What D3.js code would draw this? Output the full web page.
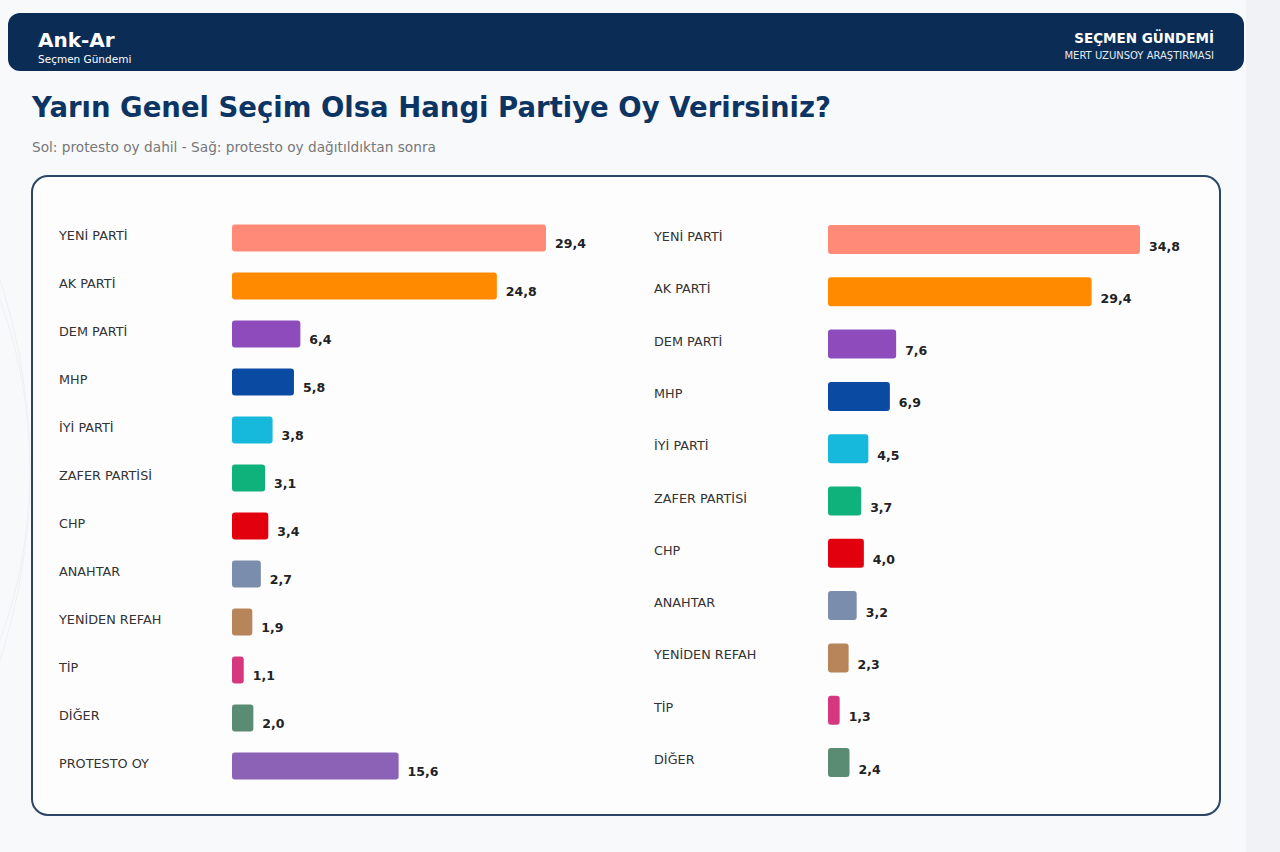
<!DOCTYPE html>
<html>
<head>
<meta charset="utf-8">
<script src="https://cdn.jsdelivr.net/npm/d3@7"></script>
<style>
  body { margin: 0; background: #f8f9fb; }
  svg { display: block; font-family: "DejaVu Sans", sans-serif; }
</style>
</head>
<body>
<div id="wrapper"></div>
<script>
// data
const partiesLeft = ["YENİ PARTİ", "AK PARTİ", "DEM PARTİ", "MHP", "İYİ PARTİ", "ZAFER PARTİSİ",
  "CHP", "ANAHTAR", "YENİDEN REFAH", "TİP", "DİĞER", "PROTESTO OY"]
const valuesLeft = [29.4, 24.8, 6.4, 5.8, 3.8, 3.1, 3.4, 2.7, 1.9, 1.1, 2.0, 15.6]

const partiesRight = ["YENİ PARTİ", "AK PARTİ", "DEM PARTİ", "MHP", "İYİ PARTİ", "ZAFER PARTİSİ",
  "CHP", "ANAHTAR", "YENİDEN REFAH", "TİP", "DİĞER"]
const valuesRight = [34.8, 29.4, 7.6, 6.9, 4.5, 3.7, 4.0, 3.2, 2.3, 1.3, 2.4]

const partyColors = ["#ff8a78", "#ff8a00", "#8e4bbb", "#0a4aa3", "#16b8dc", "#0fb27a",
  "#e2000f", "#7a8dad", "#b8845a", "#d5387f", "#5a8c73", "#8c62b6"]

const fmt = v => d3.format(".1f")(v).replace(".", ",")

// canvas
const width = 1280
const height = 852

const svg = d3.select("#wrapper")
  .append("svg")
  .attr("width", width)
  .attr("height", height)

svg.append("rect").attr("width", width).attr("height", height).attr("fill", "#f8f9fb")
svg.append("rect").attr("x", 1246).attr("width", 34).attr("height", height).attr("fill", "#f1f2f5")

// faint background arcs
const arcs = svg.append("g").attr("fill", "none").attr("stroke", "#eef0f4").attr("stroke-width", 1)
;[500, 620].forEach(r => {
  arcs.append("circle").attr("cx", -r + 30).attr("cy", 470).attr("r", r)
})

// header
svg.append("rect")
  .attr("x", 8).attr("y", 13)
  .attr("width", 1236).attr("height", 58)
  .attr("rx", 12)
  .attr("fill", "#0b2d55")

svg.append("text")
  .attr("x", 38).attr("y", 47)
  .attr("fill", "#fff").attr("font-size", 20).attr("font-weight", "bold")
  .text("Ank-Ar")
svg.append("text")
  .attr("x", 38).attr("y", 63)
  .attr("fill", "#fff").attr("font-size", 10.5)
  .text("Seçmen Gündemi")

svg.append("text")
  .attr("x", 1214).attr("y", 43)
  .attr("text-anchor", "end")
  .attr("fill", "#fff").attr("font-size", 13.5).attr("font-weight", "bold")
  .text("SEÇMEN GÜNDEMİ")
svg.append("text")
  .attr("x", 1214).attr("y", 59)
  .attr("text-anchor", "end")
  .attr("fill", "#e6ebf2").attr("font-size", 10)
  .text("MERT UZUNSOY ARAŞTIRMASI")

// title
svg.append("text")
  .attr("x", 32).attr("y", 117)
  .attr("fill", "#0d3563").attr("font-size", 27.5).attr("font-weight", "bold")
  .text("Yarın Genel Seçim Olsa Hangi Partiye Oy Verirsiniz?")
svg.append("text")
  .attr("x", 32).attr("y", 152)
  .attr("fill", "#777").attr("font-size", 13.7)
  .text("Sol: protesto oy dahil - Sağ: protesto oy dağıtıldıktan sonra")

// panel
svg.append("rect")
  .attr("x", 32).attr("y", 176)
  .attr("width", 1188).attr("height", 639)
  .attr("rx", 16)
  .attr("fill", "#fdfdfe")
  .attr("stroke", "#2a4566").attr("stroke-width", 2)

function barChart(names, values, opts) {
  const rows = names.map((n, i) => ({ name: n, value: values[i], color: partyColors[i] }))

  const xScale = d3.scaleLinear()
    .domain([0, d3.max(values)])
    .range([opts.x0, opts.x1])

  const yScale = d3.scalePoint()
    .domain(names)
    .range([opts.y0, opts.y1])

  const g = svg.append("g")

  const row = g.selectAll("g").data(rows).join("g")

  row.append("text")
    .attr("x", opts.labelX)
    .attr("y", d => yScale(d.name) + 1.5)
    .attr("fill", "#333")
    .attr("font-size", 12.8)
    .text(d => d.name)

  row.append("rect")
    .attr("x", xScale(0))
    .attr("y", d => yScale(d.name) - opts.barH / 2)
    .attr("width", d => xScale(d.value) - xScale(0))
    .attr("height", opts.barH)
    .attr("rx", 3)
    .attr("fill", d => d.color)

  row.append("text")
    .attr("x", d => xScale(d.value) + 9)
    .attr("y", d => yScale(d.name) + opts.valueDy)
    .attr("fill", "#222")
    .attr("font-size", 12.5)
    .attr("font-weight", "bold")
    .text(d => fmt(d.value))
}

barChart(partiesLeft, valuesLeft, { labelX: 59, x0: 232, x1: 546, y0: 238, y1: 766, barH: 27, valueDy: 9.5 })
barChart(partiesRight, valuesRight, { labelX: 654, x0: 828, x1: 1140, y0: 239.5, y1: 762.5, barH: 29, valueDy: 11 })
</script>
</body>
</html>
